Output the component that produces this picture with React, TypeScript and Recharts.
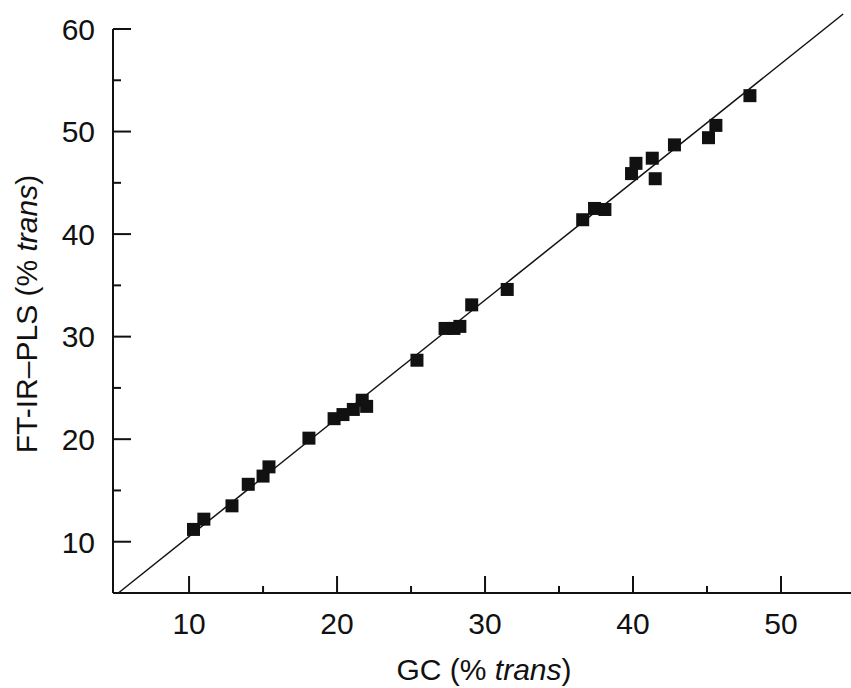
import { ScatterChart, Scatter, XAxis, YAxis, ReferenceLine, Label } from "recharts";

// GC reference value vs FT-IR-PLS prediction, both % trans
const gcValues = [
  10.3, 11.0, 12.9, 14.0, 15.0, 15.4, 18.1, 19.8, 20.4, 21.1, 21.7, 22.0, 25.4, 27.3, 27.9,
  28.3, 29.1, 31.5, 36.6, 37.4, 38.1, 39.9, 40.2, 41.3, 41.5, 42.8, 45.1, 45.6, 47.9,
];
const ftirValues = [
  11.2, 12.2, 13.5, 15.6, 16.4, 17.3, 20.1, 22.0, 22.4, 22.9, 23.8, 23.2, 27.7, 30.8, 30.8,
  31.0, 33.1, 34.6, 41.4, 42.5, 42.4, 45.9, 46.9, 47.4, 45.4, 48.7, 49.4, 50.6, 53.5,
];
const fitLine = [
  { x: 5.22, y: 5.0 },
  { x: 54.2, y: 61.46 },
];
const xTicks = [10, 15, 20, 25, 30, 35, 40, 45, 50];
const yTicks = [10, 15, 20, 25, 30, 35, 40, 45, 50, 55, 60];

const FONT = "'Liberation Sans', Arial, sans-serif";
const INK = "#111";
const FS = 30;

const data = gcValues.map((gc, i) => ({ gc, ftir: ftirValues[i] }));

function XTick({ x, y, payload }: { x: number; y: number; payload: { value: number } }) {
  const major = payload.value % 10 === 0;
  return (
    <g>
      <line x1={x} x2={x} y1={y} y2={y - (major ? 17 : 7)} stroke={INK} strokeWidth={2} />
      {major && (
        <text x={x} y={y + 41} textAnchor="middle" fontSize={FS} fontFamily={FONT} fill={INK}>
          {payload.value}
        </text>
      )}
    </g>
  );
}

function YTick({ x, y, payload }: { x: number; y: number; payload: { value: number } }) {
  const major = payload.value % 10 === 0;
  return (
    <g>
      <line x1={x} x2={x + (major ? 18 : 8)} y1={y} y2={y} stroke={INK} strokeWidth={2} />
      {major && (
        <text x={x - 18} y={y} dy="0.36em" textAnchor="end" fontSize={FS} fontFamily={FONT} fill={INK}>
          {payload.value}
        </text>
      )}
    </g>
  );
}

function Square({ cx, cy }: { cx?: number; cy?: number }) {
  if (cx == null || cy == null) return null;
  return <rect x={cx - 6.5} y={cy - 6.5} width={13} height={13} fill={INK} />;
}

export default function App() {
  return (
    <div style={{ width: 851, height: 688, background: "#fff" }}>
      <style>{"body{margin:0}"}</style>
      <ScatterChart width={851} height={688} margin={{ top: 29, right: 0, bottom: 0, left: 0 }}>
        <XAxis
          type="number"
          dataKey="gc"
          domain={[4.86, 54.73]}
          allowDataOverflow
          ticks={xTicks}
          interval={0}
          height={95}
          tickSize={0}
          tickMargin={0}
          tickLine={false}
          axisLine={{ stroke: INK, strokeWidth: 2 }}
          tick={(p: any) => <XTick {...p} />}
        >
          <Label
            content={() => (
              <text x={484} y={680} textAnchor="middle" fontSize={FS} fontFamily={FONT} fill={INK}>
                GC (% <tspan fontStyle="italic">trans</tspan>)
              </text>
            )}
          />
        </XAxis>
        <YAxis
          type="number"
          dataKey="ftir"
          domain={[5, 60]}
          allowDataOverflow
          ticks={yTicks}
          interval={0}
          width={113}
          tickSize={0}
          tickMargin={0}
          tickLine={false}
          axisLine={{ stroke: INK, strokeWidth: 2 }}
          tick={(p: any) => <YTick {...p} />}
        >
          <Label
            content={() => (
              <text
                x={37}
                y={314}
                transform="rotate(-90 37 314)"
                textAnchor="middle"
                fontSize={FS}
                fontFamily={FONT}
                fill={INK}
              >
                FT-IR–PLS (% <tspan fontStyle="italic">trans</tspan>)
              </text>
            )}
          />
        </YAxis>
        <ReferenceLine
          segment={fitLine}
          stroke={INK}
          strokeWidth={1.5}
          ifOverflow="visible"
        />
        <Scatter data={data} shape={(p: any) => <Square {...p} />} isAnimationActive={false} />
      </ScatterChart>
    </div>
  );
}
